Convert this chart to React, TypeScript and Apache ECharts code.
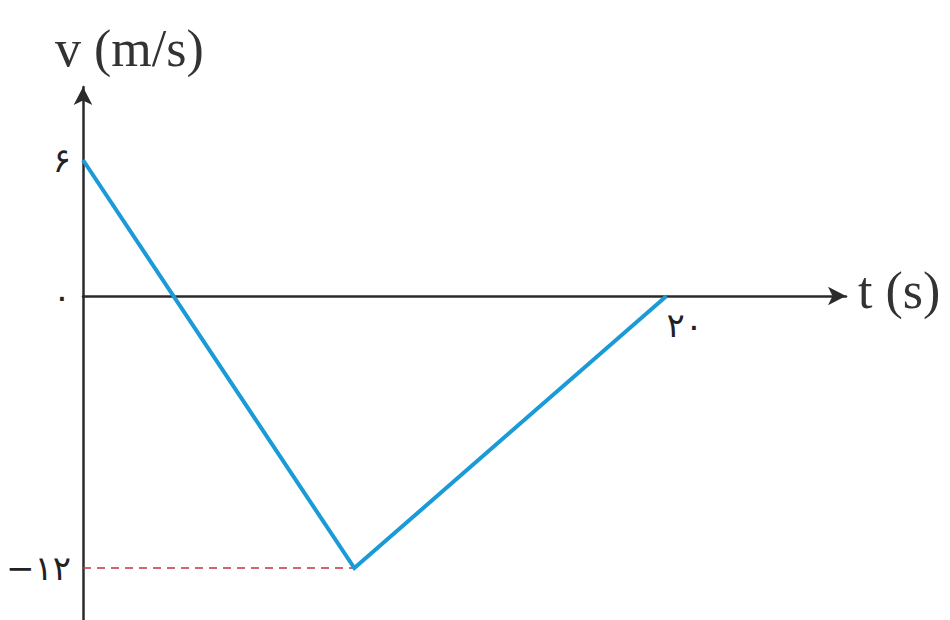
import React, { useEffect, useRef } from "react";
import * as echarts from "echarts";

// velocity–time graph: v (m/s) against t (s)
const times = [0, 9.3, 20];
const velocities = [6, -12, 0];
const yTickValues = [6, 0, -12];
const xTickValues = [20];
const minGuide = [
  [0, -12],
  [9.3, -12],
];

const persianDigits = ["۰", "۱", "۲", "۳", "۴", "۵", "۶", "۷", "۸", "۹"];
const toPersian = (v: number) => {
  const s = String(Math.abs(v))
    .split("")
    .map((d) => persianDigits[Number(d)] ?? d)
    .join("");
  return v < 0 ? "\u2212" + s : s;
};

const AXIS_COLOR = "#2b2b2b";
const LABEL_FONT = "DejaVu Sans";
const TITLE_FONT = "Liberation Serif";

const Y_MIN = -14.29;
const Y_MAX = 9.22;
const GRID_TOP = 87;
const GRID_BOTTOM = 0;
const HEIGHT = 620;
// shift the time axis up from the grid's bottom edge to v = 0
const plotHeight = HEIGHT - GRID_TOP - GRID_BOTTOM;
const zeroShift = -(plotHeight * (0 - Y_MIN)) / (Y_MAX - Y_MIN);

export default function App() {
  const ref = useRef<HTMLDivElement>(null);

  useEffect(() => {
    if (!ref.current) return;
    const chart = echarts.init(ref.current, undefined, { renderer: "svg" });
    chart.setOption({
      animation: false,
      backgroundColor: "#ffffff",
      grid: {
        left: 83,
        right: 104,
        top: GRID_TOP,
        bottom: GRID_BOTTOM,
        containLabel: false,
        outerBoundsMode: "none",
      },
      xAxis: {
        type: "value",
        position: "bottom",
        offset: zeroShift,
        min: 0,
        max: 26.15,
        splitLine: { show: false },
        axisTick: { show: false },
        axisLine: {
          show: true,
          onZero: false,
          symbol: ["none", "arrow"],
          symbolSize: [14, 18],
          lineStyle: { color: AXIS_COLOR, width: 2.5 },
        },
        axisLabel: {
          customValues: xTickValues,
          formatter: (v: number) => toPersian(v),
          align: "left",
          margin: 12,
          color: "#222",
          fontFamily: LABEL_FONT,
          fontSize: 34,
        },
      },
      yAxis: {
        type: "value",
        min: Y_MIN,
        max: Y_MAX,
        splitLine: { show: false },
        axisTick: { show: false },
        axisLine: {
          show: true,
          onZero: false,
          symbol: ["none", "arrow"],
          symbolSize: [14, 18],
          lineStyle: { color: AXIS_COLOR, width: 2.5 },
        },
        axisLabel: {
          customValues: yTickValues,
          formatter: (v: number) => toPersian(v),
          margin: 12,
          color: "#222",
          fontFamily: LABEL_FONT,
          fontSize: 34,
        },
      },
      graphic: [
        {
          type: "text",
          left: 55,
          top: 22,
          style: {
            text: "v (m/s)",
            font: `52px "${TITLE_FONT}"`,
            fill: "#333",
          },
        },
        {
          type: "text",
          left: 858,
          top: 264,
          style: {
            text: "t (s)",
            font: `52px "${TITLE_FONT}"`,
            fill: "#333",
          },
        },
      ],
      series: [
        {
          type: "line",
          data: minGuide,
          symbol: "none",
          silent: true,
          z: 1,
          lineStyle: { color: "#c8323f", width: 1.5, type: [8, 6] },
        },
        {
          type: "line",
          data: times.map((t, i) => [t, velocities[i]]),
          symbol: "none",
          z: 3,
          lineStyle: { color: "#1a9ad6", width: 4, join: "miter" },
        },
      ],
    });
    return () => chart.dispose();
  }, []);

  return (
    <div
      ref={ref}
      style={{ position: "absolute", left: 0, top: 0, width: 950, height: HEIGHT }}
    />
  );
}
